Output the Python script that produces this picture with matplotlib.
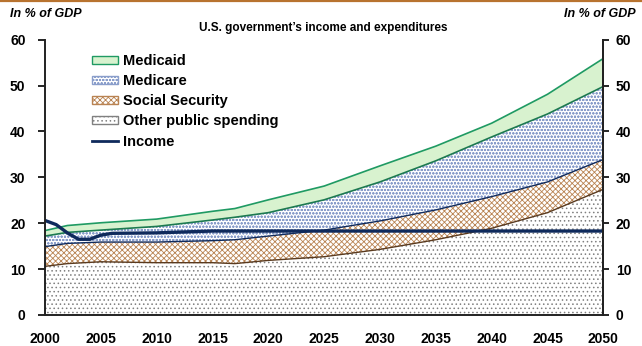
import matplotlib

matplotlib.use("Agg")

import matplotlib.pyplot as plt
import numpy as np
from matplotlib.lines import Line2D
from matplotlib.patches import Patch

plt.rcParams["font.family"] = ["Liberation Sans", "DejaVu Sans"]
plt.rcParams["font.weight"] = "bold"
plt.rcParams["hatch.linewidth"] = 0.6

# Spending components, in % of GDP (stacked bottom to top)
years = [2000, 2002, 2005, 2010, 2015, 2017, 2020, 2025, 2030, 2035, 2040, 2045, 2050]
other_spending = [10.6, 11.2, 11.6, 11.4, 11.4, 11.2, 11.9, 12.7, 14.3, 16.4, 18.9, 22.3, 27.4]
social_security = [4.3, 4.4, 4.3, 4.5, 4.8, 5.2, 5.3, 5.8, 6.2, 6.5, 6.9, 6.7, 6.5]
medicare = [2.3, 2.4, 2.6, 3.4, 4.5, 4.9, 5.1, 6.6, 8.5, 10.7, 13.0, 14.8, 15.9]
medicaid = [1.2, 1.5, 1.6, 1.6, 1.9, 1.9, 2.8, 3.0, 3.5, 3.2, 3.0, 4.3, 6.1]

# Government income, in % of GDP
income_years = [2000, 2001, 2002, 2003, 2004, 2005, 2006, 2010, 2015, 2050]
income = [20.6, 19.7, 17.9, 16.5, 16.5, 17.4, 17.8, 17.9, 18.3, 18.3]

NAVY = "#0f2a5c"
GREEN_EDGE = "#1f9a63"
GREEN_FILL = "#d8f2cf"
BLUE_HATCH = "#8a9ecb"
BROWN_HATCH = "#b98352"
BROWN_EDGE = "#5a3a1e"
DOT_COLOR = "#808080"

x = np.array(years)
other_top = np.array(other_spending)
ss_top = other_top + np.array(social_security)
medicare_top = ss_top + np.array(medicare)
medicaid_top = medicare_top + np.array(medicaid)

fig = plt.figure(figsize=(6.42, 3.46), dpi=100)
ax = fig.add_axes([0.0701, 0.0896, 0.8696, 0.7957])

ax.fill_between(x, 0, other_top, facecolor="white", edgecolor=DOT_COLOR,
                hatch="....", linewidth=0)
ax.fill_between(x, other_top, ss_top, facecolor="white", edgecolor=BROWN_HATCH,
                hatch="xxxxxx", linewidth=0)
ax.fill_between(x, ss_top, medicare_top, facecolor="white", edgecolor=BLUE_HATCH,
                hatch="ooooo", linewidth=0)
ax.fill_between(x, medicare_top, medicaid_top, facecolor=GREEN_FILL, linewidth=0)

ax.plot(x, other_top, color=BROWN_EDGE, linewidth=1.0)
ax.plot(x, ss_top, color=NAVY, linewidth=1.0)
ax.plot(x, medicare_top, color="#1c7a50", linewidth=1.2)
ax.plot(x, medicaid_top, color=GREEN_EDGE, linewidth=1.2)
ax.plot(income_years, income, color=NAVY, linewidth=2.4, solid_capstyle="butt")

ax.set_xlim(2000, 2050)
ax.set_ylim(0, 60)
ax.set_xticks(range(2000, 2051, 5))
ax.set_yticks(range(0, 61, 10))
ax.tick_params(axis="x", length=0, pad=12, labelsize=10)
ax.tick_params(axis="y", direction="out", length=5, width=1.2, labelsize=10,
               pad=9, left=True, right=False)
ax.spines["top"].set_visible(False)
for side in ("left", "right", "bottom"):
    ax.spines[side].set_linewidth(1.4)
    ax.spines[side].set_color("#222222")

# right-hand scale duplicates the left one
ax_right = ax.twinx()
ax_right.set_ylim(ax.get_ylim())
ax_right.set_yticks(range(0, 61, 10))
ax_right.tick_params(axis="y", direction="out", length=4, width=1.2,
                     labelsize=10, pad=5)
for side, spine in ax_right.spines.items():
    spine.set_visible(side == "right")
    spine.set_linewidth(1.4)
    spine.set_color("#222222")

for label in ax.get_xticklabels() + ax.get_yticklabels() + ax_right.get_yticklabels():
    label.set_fontweight("bold")

handles = [
    Patch(facecolor=GREEN_FILL, edgecolor=GREEN_EDGE, linewidth=1.0),
    Patch(facecolor="white", edgecolor=BLUE_HATCH, hatch="ooooo", linewidth=1.0),
    Patch(facecolor="white", edgecolor=BROWN_HATCH, hatch="xxxxxx", linewidth=1.0),
    Patch(facecolor="white", edgecolor=DOT_COLOR, hatch="....", linewidth=1.0),
    Line2D([], [], color=NAVY, linewidth=2.0),
]
labels = ["Medicaid", "Medicare", "Social Security", "Other public spending", "Income"]
ax.legend(handles, labels, loc="upper left",
          bbox_to_anchor=(91.7 / 642, 1 - 54 / 346), bbox_transform=fig.transFigure,
          frameon=False, handlelength=1.8, handleheight=0.5,
          handletextpad=0.35, labelspacing=0.42, borderaxespad=0, borderpad=0,
          prop={"weight": "bold", "size": 10.5})

fig.text(0.016, 0.96, "In % of GDP", fontsize=9, fontweight="bold",
         fontstyle="italic", ha="left", va="center")
fig.text(0.99, 0.96, "In % of GDP", fontsize=9, fontweight="bold",
         fontstyle="italic", ha="right", va="center")
fig.text(0.503, 0.918, "U.S. government\u2019s income and expenditures", fontsize=8.5,
         fontweight="bold", ha="center", va="center")

# thin brown rule along the top edge
fig.add_artist(Line2D([0, 1], [0.996, 0.996], color="#b8732f", linewidth=1.6,
                      transform=fig.transFigure))

fig.savefig("out.png", dpi=100)
